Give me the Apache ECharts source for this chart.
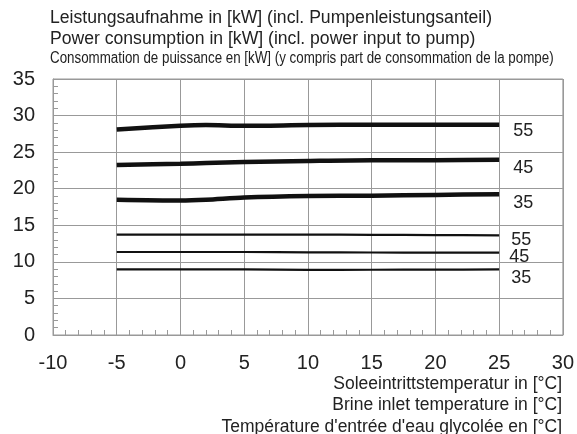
<!DOCTYPE html>
<html><head><meta charset="utf-8">
<script src="https://cdn.jsdelivr.net/npm/echarts@6/dist/echarts.min.js"></script>
<style>html,body{margin:0;padding:0;background:#fff}#c{width:577px;height:434px}</style>
</head><body><div id="c"></div>
<script>
const xs = [-5, 0, 2, 5, 10, 15, 20, 25];
const thick55 = [28.1, 28.6, 28.7, 28.6, 28.7, 28.75, 28.75, 28.75];
const thick45 = [23.25, 23.4, 23.5, 23.65, 23.8, 23.9, 23.9, 23.95];
const thick35 = [18.5, 18.4, 18.5, 18.8, 19.0, 19.05, 19.15, 19.25];
const thin55 = [13.72, 13.72, 13.72, 13.72, 13.72, 13.7, 13.66, 13.63];
const thin45 = [11.35, 11.35, 11.35, 11.35, 11.3, 11.28, 11.27, 11.26];
const thin35 = [8.98, 8.98, 8.98, 8.96, 8.9, 8.92, 8.94, 8.96];
const xTicks = [-10, -5, 0, 5, 10, 15, 20, 25, 30];
const yTicks = [0, 5, 10, 15, 20, 25, 30, 35];
const titleLines = [
  'Leistungsaufnahme in [kW] (incl. Pumpenleistungsanteil)',
  'Power consumption in [kW] (incl. power input to pump)',
  'Consommation de puissance en [kW] (y compris part de consommation de la pompe)'
];
const xNameLines = [
  'Soleeintrittstemperatur in [°C]',
  'Brine inlet temperature in [°C]',
  "Température d'entrée d'eau glycolée en [°C]"
];
const seriesDefs = [
  {name: '55', data: thick55, width: 4.5, off: [6, 6]},
  {name: '45', data: thick45, width: 4.5, off: [6, 8]},
  {name: '35', data: thick35, width: 4.5, off: [6, 9]},
  {name: '55', data: thin55, width: 2.2, off: [4, 5]},
  {name: '45', data: thin45, width: 2.2, off: [2, 4]},
  {name: '35', data: thin35, width: 2.2, off: [4, 9]}
];
const font = 'Liberation Sans, Arial, sans-serif';
const tStyle = {fontFamily: font, fontSize: 17.6, fontWeight: 'normal', color: '#222'};
const bStyle = {fontFamily: font, fontSize: 17.5, fontWeight: 'normal', color: '#222'};
const chart = echarts.init(document.getElementById('c'), null, {renderer: 'canvas'});
chart.setOption({
  backgroundColor: '#fff',
  animation: false,
  title: [
    {text: titleLines[0], left: 50, top: 9, padding: 0, textStyle: tStyle},
    {text: titleLines[1], left: 50, top: 30, padding: 0, textStyle: tStyle},
    {text: xNameLines[0], right: 15, top: 375, padding: 0, textStyle: bStyle},
    {text: xNameLines[1], right: 15, top: 396, padding: 0, textStyle: bStyle},
    {text: xNameLines[2], right: 15, top: 418, padding: 0, textStyle: bStyle}
  ],
  graphic: [
    {type: 'text', x: 50, y: 59, scaleX: 0.834, style: {text: titleLines[2], font: '16px Liberation Sans, Arial, sans-serif', fill: '#222', verticalAlign: 'middle', align: 'left'}}
  ],
  grid: {left: 53, top: 79, right: 11, bottom: 99, show: true, borderColor: '#999', borderWidth: 1},
  xAxis: {
    type: 'value', min: xTicks[0], max: xTicks[xTicks.length - 1], interval: 5,
    axisLine: {show: true, onZero: false, lineStyle: {color: '#999'}},
    axisTick: {show: true, inside: true, length: 6, lineStyle: {color: '#999'}},
    minorTick: {show: true, splitNumber: 5, length: 5, lineStyle: {color: '#999'}},
    splitLine: {show: true, lineStyle: {color: '#999', width: 1}},
    axisLabel: {fontFamily: font, fontSize: 20, color: '#222', margin: 18}
  },
  yAxis: {
    type: 'value', min: yTicks[0], max: yTicks[yTicks.length - 1], interval: 5,
    axisLine: {show: true, onZero: false, lineStyle: {color: '#999'}},
    axisTick: {show: true, inside: true, length: 6, lineStyle: {color: '#999'}},
    minorTick: {show: true, splitNumber: 5, length: 5, lineStyle: {color: '#999'}},
    splitLine: {show: true, lineStyle: {color: '#999', width: 1}},
    axisLabel: {fontFamily: font, fontSize: 20, color: '#222', margin: 18}
  },
  series: seriesDefs.map(s => ({
    type: 'line', name: s.name, smooth: 0.3, symbol: 'none',
    data: xs.map((x, i) => [x, s.data[i]]),
    lineStyle: {color: '#111', width: s.width},
    endLabel: {show: true, formatter: s.name, offset: s.off, fontFamily: font, fontSize: 18, color: '#222'}
  }))
});
</script></body></html>
